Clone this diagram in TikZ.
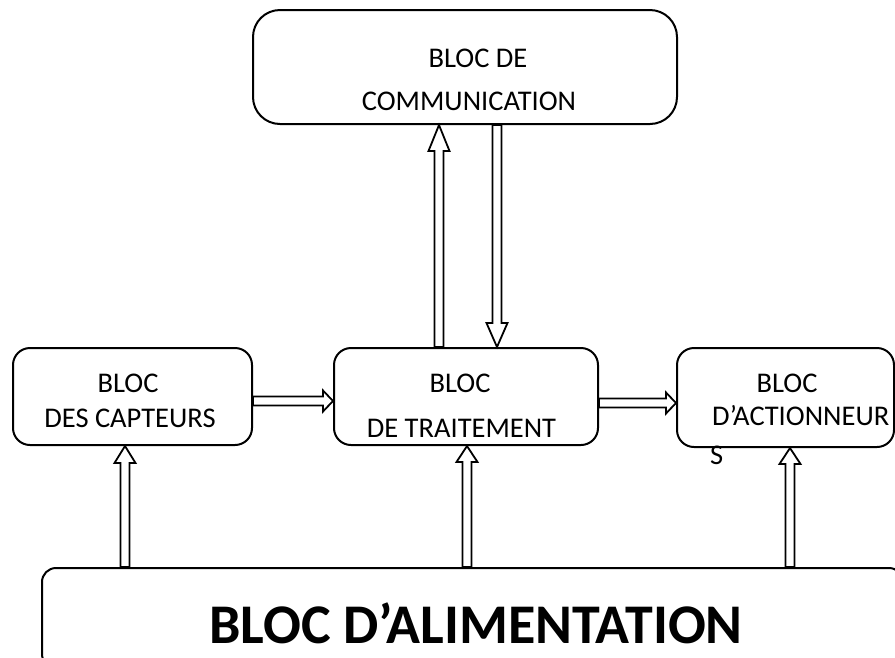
\documentclass[tikz,border=0pt]{standalone}
\usepackage{fontspec}
\setmainfont{Carlito}
\usetikzlibrary{calc}
\tikzset{
  blockbox/.style={draw, line width=2pt, rectangle, inner sep=0pt},
  arrowline/.style={draw, line width=1.8pt, fill=white, line join=miter},
  lbl/.style={inner sep=0pt, anchor=base, font=\fontsize{28.5}{34}\selectfont},
  lblw/.style={lbl, anchor=base west},
  bigl/.style={inner sep=0pt, anchor=base, font=\fontsize{56}{64}\selectfont\bfseries}
}
\newcommand\hollowarrow[3]{%
  \coordinate (hq) at ($(#2)!#3!(#1)$);
  \draw[arrowline] ($(#1)!4.5pt!90:(#2)$) -- ($(hq)!4.5pt!90:(#2)$) -- ($(hq)!10.5pt!90:(#2)$) -- (#2) -- ($(hq)!10.5pt!-90:(#2)$) -- ($(hq)!4.5pt!-90:(#2)$) -- ($(#1)!4.5pt!-90:(#2)$) -- cycle;
}
\begin{document}
\begin{tikzpicture}[x=1pt,y=-1pt]
\useasboundingbox (0,0) rectangle (895,657);
\clip (0,0) rectangle (895,657);
% boxes
\node[blockbox, rounded corners=27pt, minimum width=424pt, minimum height=114pt] (comm) at (465,67) {};
\node[blockbox, rounded corners=17pt, minimum width=239pt, minimum height=97pt] (capt) at (132.5,396.5) {};
\node[blockbox, rounded corners=17pt, minimum width=264pt, minimum height=97pt] (trait) at (466,396.5) {};
\node[blockbox, rounded corners=17pt, minimum width=217pt, minimum height=99pt] (act) at (785.5,397.5) {};
\node[blockbox, rounded corners=14pt, minimum width=861pt, minimum height=100pt] (alim) at (472.5,618) {};
% texts
\node[lbl] (t1) at (478,67) {BLOC DE};
\node[lbl] (t2) at (469,110) {COMMUNICATION};
\node[lbl] (t3) at (128,392) {BLOC};
\node[lbl] (t4) at (130,427) {DES CAPTEURS};
\node[lbl] (t5) at (460,392) {BLOC};
\node[lbl] (t6) at (461.5,437) {DE TRAITEMENT};
\node[lbl] (t7) at (787,392) {BLOC};
\node[lblw] (t8) at (712,425) {D’ACTIONNEUR};
\node[lblw] (t9) at (710,464) {S};
\node[bigl] (t10) at (476,643) {BLOC D’ALIMENTATION};
% connector end points
\coordinate (a1s) at (trait.north -| 439,0);
\coordinate (a1e) at (comm.south -| 439,0);
\coordinate (a2s) at (comm.south -| 497,0);
\coordinate (a2e) at (trait.north -| 497,0);
\coordinate (a3s) at (capt.east |- 0,401);
\coordinate (a3e) at (trait.west |- 0,401);
\coordinate (a4s) at (trait.east |- 0,403);
\coordinate (a4e) at (act.west |- 0,403);
\coordinate (a5s) at (alim.north -| 125,0);
\coordinate (a5e) at (capt.south -| 125,0);
\coordinate (a6s) at (alim.north -| 467,0);
\coordinate (a6e) at (trait.south -| 467,0);
\coordinate (a7s) at (alim.north -| 790,0);
\coordinate (a7e) at (act.south -| 790,0);
% arrows
\hollowarrow{a1s}{a1e}{26pt}
\hollowarrow{a2s}{a2e}{24pt}
\hollowarrow{a3s}{a3e}{10pt}
\hollowarrow{a4s}{a4e}{10pt}
\hollowarrow{a5s}{a5e}{17pt}
\hollowarrow{a6s}{a6e}{16pt}
\hollowarrow{a7s}{a7e}{16pt}
\end{tikzpicture}
\end{document}
